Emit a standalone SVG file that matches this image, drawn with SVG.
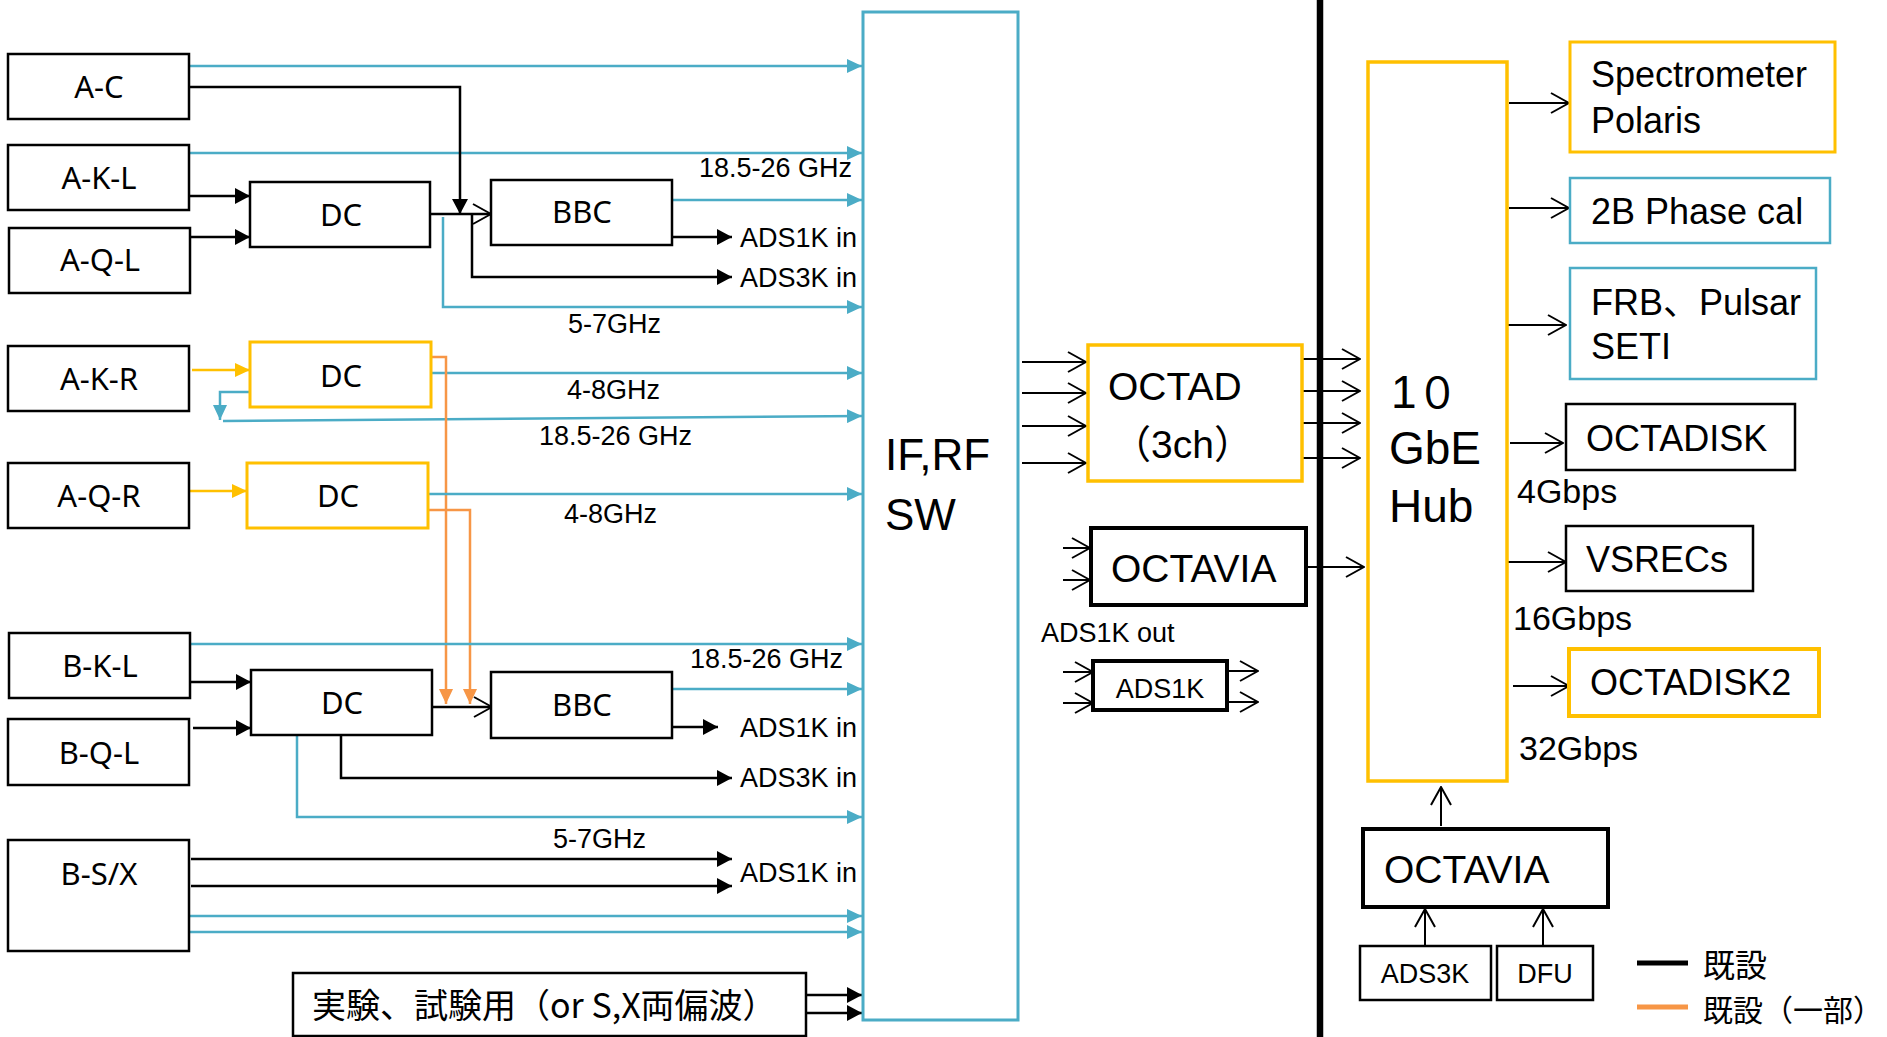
<svg xmlns="http://www.w3.org/2000/svg" width="1887" height="1037" viewBox="0 0 1887 1037">
<defs>
<style>
.bx{fill:#fff;stroke:#000;stroke-width:2.5}
.bk{fill:#fff;stroke:#000;stroke-width:4}
.by{fill:#fff;stroke:#FFC000;stroke-width:3}
.bb{fill:#fff;stroke:#4BACC6;stroke-width:2.5}
.lb{font-family:"Noto Sans","Liberation Sans",sans-serif;font-size:31px;text-anchor:middle;fill:#000}
.el{font-family:"Liberation Sans",Arial,sans-serif;font-size:27px;fill:#000}
.rt{font-family:"Liberation Sans","Noto Sans CJK JP",sans-serif;font-size:36px;fill:#000}
.big{font-family:"Liberation Sans","Noto Sans CJK JP",sans-serif;font-size:44px;fill:#000}
.mid{font-family:"Liberation Sans","Noto Sans CJK JP",sans-serif;font-size:39px;fill:#000}
.sm{font-family:"Liberation Sans",Arial,sans-serif;font-size:27px;fill:#000}
.jp{font-family:"Noto Sans CJK JP",sans-serif;font-size:34px;fill:#000}
.lg{font-family:"Noto Sans CJK JP",sans-serif;font-size:30px;fill:#000}
.cb{fill:none;stroke:#4BACC6;stroke-width:2.5;marker-end:url(#mb)}
.ck{fill:none;stroke:#000;stroke-width:2.5;marker-end:url(#mk)}
.cy{fill:none;stroke:#FFC000;stroke-width:2.5;marker-end:url(#my)}
.co{fill:none;stroke:#F79646;stroke-width:2.5;marker-end:url(#mo)}
.cv{fill:none;stroke:#000;stroke-width:2.5;marker-end:url(#mv)}
.cn{fill:none;stroke:#000;stroke-width:2;marker-end:url(#mv)}
</style>
<marker id="mb" viewBox="0 0 15 14" refX="15" refY="7" markerWidth="15" markerHeight="14" markerUnits="userSpaceOnUse" orient="auto"><path d="M0,0 L15,7 L0,14 z" fill="#4BACC6"/></marker>
<marker id="mk" viewBox="0 0 15 16" refX="15" refY="8" markerWidth="15" markerHeight="16" markerUnits="userSpaceOnUse" orient="auto"><path d="M0,0 L15,8 L0,16 z" fill="#000"/></marker>
<marker id="my" viewBox="0 0 15 14" refX="15" refY="7" markerWidth="15" markerHeight="14" markerUnits="userSpaceOnUse" orient="auto"><path d="M0,0 L15,7 L0,14 z" fill="#FFC000"/></marker>
<marker id="mo" viewBox="0 0 15 14" refX="15" refY="7" markerWidth="15" markerHeight="14" markerUnits="userSpaceOnUse" orient="auto"><path d="M0,0 L15,7 L0,14 z" fill="#F79646"/></marker>
<marker id="mv" viewBox="0 0 20 22" refX="19" refY="11" markerWidth="20" markerHeight="22" markerUnits="userSpaceOnUse" orient="auto"><path d="M1,1 L19,11 L1,21" fill="none" stroke="#000" stroke-width="2"/></marker>
</defs>
<rect width="1887" height="1037" fill="#fff"/>

<g id="connectors">
<path class="cb" d="M189,66 H862"/>
<path class="cb" d="M189,153 H862"/>
<path class="ck" d="M189,87 H460 V214"/>
<path class="ck" d="M189,196 H250"/>
<path class="ck" d="M190,237 H250"/>
<path class="cv" d="M430,214 H491"/>
<path class="ck" d="M472,214 V277 H732"/>
<path class="cb" d="M672,200 H862"/>
<path class="ck" d="M672,237 H732"/>
<path class="cb" d="M443,217 V307 H862"/>
<path class="cy" d="M192,370 H250"/>
<path class="cb" d="M431,373 H862"/>
<path class="cb" d="M250,392 H220 V420"/>
<path class="cb" d="M223,421 L862,416"/>
<path class="co" d="M431,357 H446 V704"/>
<path class="cy" d="M189,491 H247"/>
<path class="cb" d="M428,494 H862"/>
<path class="co" d="M428,510 H470 V704"/>
<path class="cb" d="M190,644 H862"/>
<path class="ck" d="M190,682 H251"/>
<path class="ck" d="M193,728 H251"/>
<path class="cv" d="M432,707 H492"/>
<path class="cb" d="M672,689 H862"/>
<path class="ck" d="M672,727 H718"/>
<path class="ck" d="M341,735 V778 H732"/>
<path class="cb" d="M297,735 V817 H862"/>
<path class="ck" d="M191,859 H732"/>
<path class="ck" d="M191,886 H732"/>
<path class="cb" d="M189,916 H862"/>
<path class="cb" d="M189,932 H862"/>
<path class="ck" d="M806,995 H862"/>
<path class="ck" d="M806,1013 H862"/>
<path class="cn" d="M1022,362 H1086"/>
<path class="cn" d="M1022,393 H1086"/>
<path class="cn" d="M1022,426 H1086"/>
<path class="cn" d="M1022,463 H1086"/>
<path class="cn" d="M1302,359 H1360"/>
<path class="cn" d="M1302,391 H1360"/>
<path class="cn" d="M1302,423 H1360"/>
<path class="cn" d="M1302,458 H1360"/>
<path class="cn" d="M1063,548 H1090"/>
<path class="cn" d="M1063,580 H1090"/>
<path class="cn" d="M1306,567 H1364"/>
<path class="cn" d="M1063,672 H1093"/>
<path class="cn" d="M1063,703 H1093"/>
<path class="cn" d="M1227,671 H1258"/>
<path class="cn" d="M1227,702 H1258"/>
<path class="cn" d="M1509,103 H1569"/>
<path class="cn" d="M1509,208 H1569"/>
<path class="cn" d="M1507,325 H1566"/>
<path class="cn" d="M1510,443 H1563"/>
<path class="cn" d="M1506,562 H1566"/>
<path class="cn" d="M1513,686 H1569"/>
<path class="cn" d="M1441,826 V787"/>
<path class="cn" d="M1425,945 V909"/>
<path class="cn" d="M1543,945 V909"/>
</g>

<g id="edge-labels">
<text class="el" x="699" y="177">18.5-26 GHz</text>
<text class="el" x="740" y="247">ADS1K in</text>
<text class="el" x="740" y="287">ADS3K in</text>
<text class="el" x="568" y="333">5-7GHz</text>
<text class="el" x="567" y="399">4-8GHz</text>
<text class="el" x="539" y="445">18.5-26 GHz</text>
<text class="el" x="564" y="523">4-8GHz</text>
<text class="el" x="690" y="668">18.5-26 GHz</text>
<text class="el" x="740" y="737">ADS1K in</text>
<text class="el" x="740" y="787">ADS3K in</text>
<text class="el" x="553" y="848">5-7GHz</text>
<text class="el" x="740" y="882">ADS1K in</text>
</g>

<g id="n-AC"><rect class="bx" x="8" y="54" width="181" height="65"/><text class="lb" x="99" y="98">A-C</text></g>
<g id="n-AKL"><rect class="bx" x="8" y="145" width="181" height="65"/><text class="lb" x="99" y="189">A-K-L</text></g>
<g id="n-AQL"><rect class="bx" x="9" y="228" width="181" height="65"/><text class="lb" x="100" y="271">A-Q-L</text></g>
<g id="n-DC1"><rect class="bx" x="250" y="182" width="180" height="65"/><text class="lb" x="341" y="226">DC</text></g>
<g id="n-BBC1"><rect class="bx" x="491" y="180" width="181" height="65"/><text class="lb" x="582" y="223">BBC</text></g>
<g id="n-AKR"><rect class="bx" x="8" y="346" width="181" height="65"/><text class="lb" x="99" y="390">A-K-R</text></g>
<g id="n-DC2"><rect class="by" x="250" y="342" width="181" height="65"/><text class="lb" x="341" y="387">DC</text></g>
<g id="n-AQR"><rect class="bx" x="8" y="463" width="181" height="65"/><text class="lb" x="99" y="507">A-Q-R</text></g>
<g id="n-DC3"><rect class="by" x="247" y="463" width="181" height="65"/><text class="lb" x="338" y="507">DC</text></g>
<g id="n-BKL"><rect class="bx" x="9" y="633" width="181" height="65"/><text class="lb" x="100" y="677">B-K-L</text></g>
<g id="n-BQL"><rect class="bx" x="8" y="719" width="181" height="66"/><text class="lb" x="99" y="764">B-Q-L</text></g>
<g id="n-DC4"><rect class="bx" x="251" y="670" width="181" height="65"/><text class="lb" x="342" y="714">DC</text></g>
<g id="n-BBC2"><rect class="bx" x="491" y="672" width="181" height="66"/><text class="lb" x="582" y="716">BBC</text></g>
<g id="n-BSX"><rect class="bx" x="8" y="840" width="181" height="111"/><text class="lb" x="99" y="885">B-S/X</text></g>
<g id="n-exp"><rect class="bx" x="293" y="973" width="513" height="63"/><text class="jp" x="312" y="1018">実験、試験用（or S,X両偏波）</text></g>

<g id="n-IFRF"><rect x="863" y="12" width="155" height="1008" fill="none" stroke="#4BACC6" stroke-width="3"/><text class="big" x="885" y="470">IF,RF</text><text class="big" x="885" y="530">SW</text></g>

<g id="divider"><line x1="1320" y1="0" x2="1320" y2="1037" stroke="#000" stroke-width="6.5"/></g>

<g id="n-OCTAD"><rect x="1088" y="345" width="214" height="136" fill="#fff" stroke="#FFC000" stroke-width="3.5"/><text class="mid" x="1108" y="400">OCTAD</text><text class="mid" x="1112" y="458">（3ch）</text></g>
<g id="n-OCTAVIA1"><rect class="bk" x="1091" y="528" width="215" height="77"/><text class="mid" x="1111" y="582">OCTAVIA</text></g>
<g id="n-ADS1Kout"><text class="sm" x="1041" y="642">ADS1K out</text></g>
<g id="n-ADS1K"><rect class="bk" x="1093" y="661" width="134" height="49"/><text class="sm" x="1160" y="698" text-anchor="middle">ADS1K</text></g>

<g id="n-Hub"><rect x="1368" y="62" width="139" height="719" fill="#fff" stroke="#FFC000" stroke-width="3.5"/><text class="big" x="1391" y="408" style="font-size:46px">1<tspan font-family="Noto Sans CJK JP" font-size="42px">０</tspan></text><text class="big" x="1389" y="464" style="font-size:46px">GbE</text><text class="big" x="1389" y="522" style="font-size:46px">Hub</text></g>

<g id="n-Spec"><rect class="by" x="1570" y="42" width="265" height="110"/><text class="rt" x="1591" y="87">Spectrometer</text><text class="rt" x="1591" y="133">Polaris</text></g>
<g id="n-2B"><rect class="bb" x="1570" y="178" width="260" height="65"/><text class="rt" x="1591" y="224">2B Phase cal</text></g>
<g id="n-FRB"><rect class="bb" x="1570" y="268" width="246" height="111"/><text class="rt" x="1591" y="315">FRB、Pulsar</text><text class="rt" x="1591" y="359">SETI</text></g>
<g id="n-OCTADISK"><rect class="bx" x="1566" y="404" width="229" height="66"/><text class="rt" x="1586" y="451">OCTADISK</text></g>
<g id="n-4G"><text class="rt" x="1517" y="503" style="font-size:34px">4Gbps</text></g>
<g id="n-VSRECs"><rect class="bx" x="1566" y="526" width="187" height="65"/><text class="rt" x="1586" y="572">VSRECs</text></g>
<g id="n-16G"><text class="rt" x="1513" y="630" style="font-size:34px">16Gbps</text></g>
<g id="n-OCTADISK2"><rect x="1569" y="649" width="250" height="67" fill="#fff" stroke="#FFC000" stroke-width="4"/><text class="rt" x="1590" y="695">OCTADISK2</text></g>
<g id="n-32G"><text class="rt" x="1519" y="760" style="font-size:34px">32Gbps</text></g>
<g id="n-OCTAVIA2"><rect class="bk" x="1363" y="829" width="245" height="78"/><text class="mid" x="1384" y="883">OCTAVIA</text></g>
<g id="n-ADS3K"><rect class="bx" x="1360" y="946" width="131" height="54"/><text class="sm" x="1425" y="983" text-anchor="middle">ADS3K</text></g>
<g id="n-DFU"><rect class="bx" x="1497" y="946" width="96" height="54"/><text class="sm" x="1545" y="983" text-anchor="middle">DFU</text></g>

<g id="legend">
<line x1="1637" y1="963" x2="1688" y2="963" stroke="#000" stroke-width="5"/>
<text class="lg" x="1703" y="977" style="font-size:32px">既設</text>
<line x1="1637" y1="1007" x2="1688" y2="1007" stroke="#F79646" stroke-width="5"/>
<text class="lg" x="1703" y="1021">既設（一部）</text>
</g>
</svg>
